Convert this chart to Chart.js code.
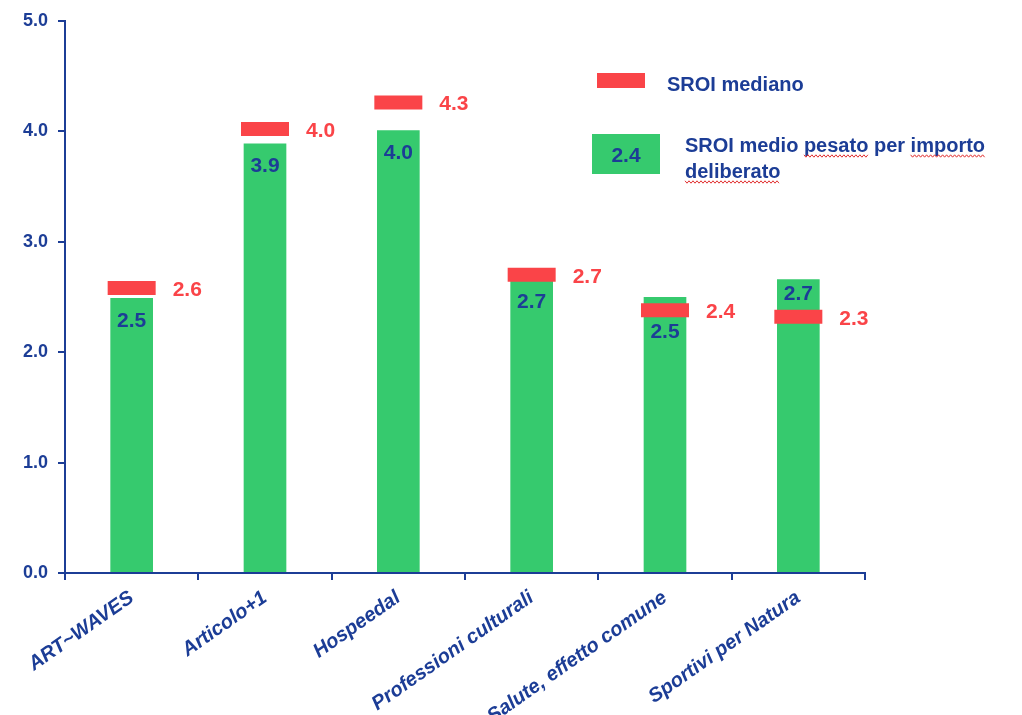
<!DOCTYPE html>
<html>
<head>
<meta charset="utf-8">
<script src="https://cdn.jsdelivr.net/npm/chart.js@4/dist/chart.umd.min.js"></script>
<style>
  html, body { margin: 0; padding: 0; background: #fff; }
  #wrap { width: 1022px; height: 715px; position: relative; }
</style>
</head>
<body>
<div id="wrap"><canvas id="sroiChart"></canvas></div>
<script>
const projects = ['ART~WAVES', 'Articolo+1', 'Hospeedal', 'Professioni culturali', 'Salute, effetto comune', 'Sportivi per Natura'];
const sroiWeighted = [2.49, 3.89, 4.01, 2.66, 2.50, 2.66];
const sroiMedian = [2.58, 4.02, 4.26, 2.70, 2.38, 2.32];
const yTicks = [0, 1, 2, 3, 4, 5];

const BLUE = '#1c3d96';
const GREEN = '#36ca6e';
const RED = '#fa4448';
const FONT = '"Liberation Sans", Arial, sans-serif';

// value labels: blue inside the bars, red beside the median markers
const valueLabels = {
  id: 'valueLabels',
  afterDatasetsDraw(chart) {
    const ctx = chart.ctx;
    const bars = chart.getDatasetMeta(0).data;
    const marks = chart.getDatasetMeta(1).data;
    ctx.save();
    ctx.font = 'bold 21px ' + FONT;
    ctx.textBaseline = 'middle';
    bars.forEach((bar, i) => {
      const top = bar.y;
      const my = marks[i].y;
      const mTop = my - 7, mBottom = my + 7;
      let ly;
      if (mTop - top >= 25) {
        ly = (top + mTop) / 2;
      } else {
        ly = Math.max(top + 23, mBottom + 15);
      }
      ctx.fillStyle = BLUE;
      ctx.textAlign = 'center';
      ctx.fillText(sroiWeighted[i].toFixed(1), bar.x, ly);

      ctx.fillStyle = RED;
      ctx.textAlign = 'left';
      ctx.fillText(sroiMedian[i].toFixed(1), bar.x + 41, my + 2);
    });
    ctx.restore();
  }
};

// custom legend on the right side
const sideLegend = {
  id: 'sideLegend',
  afterDraw(chart) {
    const ctx = chart.ctx;
    ctx.save();
    ctx.fillStyle = RED;
    ctx.fillRect(597, 73, 48, 15);
    ctx.font = 'bold 20px ' + FONT;
    ctx.fillStyle = BLUE;
    ctx.textAlign = 'left';
    ctx.textBaseline = 'alphabetic';
    ctx.fillText('SROI mediano', 667, 91);

    ctx.fillStyle = GREEN;
    ctx.fillRect(592, 134, 68, 40);
    ctx.fillStyle = BLUE;
    ctx.textAlign = 'center';
    ctx.font = 'bold 21px ' + FONT;
    ctx.fillText('2.4', 626, 162);

    ctx.font = 'bold 20px ' + FONT;
    ctx.textAlign = 'left';
    const line1 = 'SROI medio pesato per importo';
    const line2 = 'deliberato';
    ctx.fillText(line1, 685, 152);
    ctx.fillText(line2, 685, 178);

    // spell-check squiggles
    const squiggle = (x0, x1, y) => {
      ctx.beginPath();
      ctx.strokeStyle = '#e03030';
      ctx.lineWidth = 1;
      for (let x = x0, k = 0; x <= x1; x += 2, k++) {
        const yy = y + (k % 2 ? 1.2 : -1.2);
        if (k === 0) ctx.moveTo(x, yy); else ctx.lineTo(x, yy);
      }
      ctx.stroke();
    };
    const wordX = (line, word, x, y) => {
      const idx = line.indexOf(word);
      const start = x + ctx.measureText(line.slice(0, idx)).width;
      squiggle(start, start + ctx.measureText(word).width, y);
    };
    wordX(line1, 'pesato', 685, 156);
    wordX(line1, 'importo', 685, 156);
    wordX(line2, 'deliberato', 685, 182);
    ctx.restore();
  }
};

const ctx = document.getElementById('sroiChart').getContext('2d');
const sroiChart = new Chart(ctx, {
  data: {
    labels: projects,
    datasets: [{
      type: 'bar',
      label: 'SROI medio pesato per importo deliberato',
      data: sroiWeighted,
      backgroundColor: GREEN,
      barPercentage: 0.32,
      categoryPercentage: 1,
      order: 2,
    }, {
      type: 'line',
      label: 'SROI mediano',
      data: sroiMedian,
      showLine: false,
      pointStyle: 'line',
      pointRadius: 24,
      pointHoverRadius: 24,
      pointBorderWidth: 14,
      pointHoverBorderWidth: 14,
      pointBorderColor: RED,
      pointBackgroundColor: RED,
      order: 1,
    }],
  },
  options: {
    responsive: true,
    maintainAspectRatio: false,
    animation: false,
    layout: {
      autoPadding: false,
      padding: { top: 20, right: 157, left: 0, bottom: 0 }
    },
    plugins: {
      legend: { display: false },
      tooltip: { enabled: false },
    },
    scales: {
      x: {
        offset: true,
        grid: {
          offset: true,
          drawOnChartArea: false,
          drawTicks: true,
          tickLength: 7,
          color: BLUE,
          lineWidth: 2,
        },
        border: { color: BLUE, width: 2 },
        ticks: {
          color: BLUE,
          font: { family: FONT, size: 20, weight: 'bold', style: 'italic' },
          minRotation: 35,
          maxRotation: 35,
          padding: 6,
        },
        afterFit(scale) { scale.height = 142; },
      },
      y: {
        min: yTicks[0],
        max: yTicks[yTicks.length - 1],
        afterBuildTicks(scale) { scale.ticks = yTicks.map(v => ({ value: v })); },
        grid: {
          drawOnChartArea: false,
          drawTicks: true,
          tickLength: 7,
          color: BLUE,
          lineWidth: 2,
        },
        border: { color: BLUE, width: 2 },
        ticks: {
          color: BLUE,
          font: { family: FONT, size: 18, weight: 'bold' },
          padding: 10,
          callback: v => Number(v).toFixed(1),
        },
        afterFit(scale) { scale.width = 65; },
      },
    },
  },
  plugins: [valueLabels, sideLegend],
});
</script>
</body>
</html>
